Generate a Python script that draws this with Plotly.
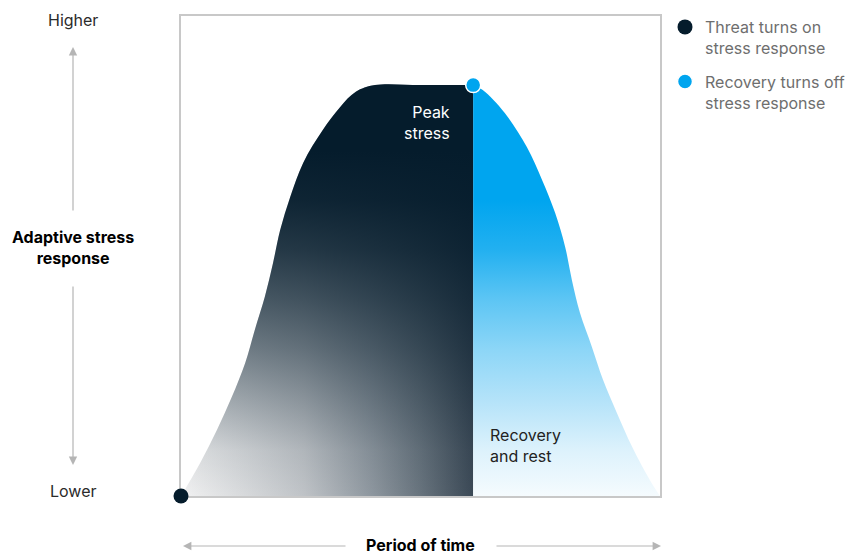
import plotly.graph_objects as go

# ---- data (time 0-100, response 0-100) ----
time_rise = [0, 4.0, 7.5, 10.6, 13.4, 15.4, 17.5, 19.2, 20.7, 22.8, 25.5, 29.6, 33.2, 36.5, 40.5, 50.0, 61.0]
resp_rise = [0, 6.9, 13.75, 20.6, 27.7, 34.6, 41.5, 48.5, 55.4, 62.3, 69.4, 76.25, 81.0, 84.2, 85.6, 85.6, 85.6]
time_fall = [61.0, 63.0, 67.6, 72.2, 75.4, 78.1, 80.2, 81.6, 83.3, 85.8, 88.1, 91.0, 94.2, 97.9, 100]
resp_fall = [85.6, 84.6, 79.8, 72.7, 65.8, 59.0, 51.9, 45.0, 38.1, 31.0, 24.2, 17.3, 10.2, 3.3, 0]

start_point = (0, 0)
peak_point = (61.0, 85.6)
legend_names = ["Threat turns on<br>stress response", "Recovery turns off<br>stress response"]

DARK = "#051c2c"
BLUE = "#00a5ef"
FONT = "Inter, Arial, sans-serif"

fig = go.Figure()

line_style = dict(width=0, shape="spline", smoothing=1.0)

# stress phase: horizontal light->dark base layer
fig.add_trace(go.Scatter(
    x=time_rise, y=resp_rise, mode="lines", fill="tozeroy",
    line=line_style, hoverinfo="skip", showlegend=False,
    fillgradient=dict(type="horizontal", start=0, stop=61,
                      colorscale=[[0, "#f2f2f3"], [0.075, "#e8e9ea"], [0.42, "#bfc3c7"],
                                  [0.65, "#8e979f"], [0.82, "#67737d"], [1, "#3b4956"]]),
))
# stress phase: vertical dark overlay (gives the diagonal look)
fig.add_trace(go.Scatter(
    x=time_rise, y=resp_rise, mode="lines", fill="tozeroy",
    line=line_style, hoverinfo="skip", showlegend=False,
    fillgradient=dict(type="vertical", start=0, stop=85.6,
                      colorscale=[[0, "rgba(5,28,44,0)"], [0.11, "rgba(5,28,44,0.08)"],
                                  [0.23, "rgba(5,28,44,0.28)"], [0.36, "rgba(5,28,44,0.5)"],
                                  [0.48, "rgba(5,28,44,0.68)"], [0.6, "rgba(5,28,44,0.84)"],
                                  [0.72, "rgba(5,28,44,0.95)"], [0.84, "rgba(5,28,44,1)"],
                                  [1, "rgba(5,28,44,1)"]]),
))
# recovery phase
fig.add_trace(go.Scatter(
    x=time_fall, y=resp_fall, mode="lines", fill="tozeroy",
    line=line_style, hoverinfo="skip", showlegend=False,
    fillgradient=dict(type="vertical", start=0, stop=85.6,
                      colorscale=[[0, "#f5fbfe"], [0.11, "#ddf2fc"], [0.23, "#b5e3f9"],
                                  [0.355, "#8dd6f7"], [0.48, "#5cc5f4"], [0.6, "#22b0f0"],
                                  [0.72, BLUE], [1, BLUE]]),
))

# key points
fig.add_trace(go.Scatter(
    x=[start_point[0]], y=[start_point[1]], mode="markers", name=legend_names[0],
    legendgroup="a", cliponaxis=False,
    marker=dict(size=15, color=DARK, line=dict(width=0)),
))
fig.add_trace(go.Scatter(
    x=[peak_point[0]], y=[peak_point[1]], mode="markers", name=legend_names[1],
    legendgroup="b", cliponaxis=False,
    marker=dict(size=15, color=BLUE, line=dict(width=1.5, color="white")),
))

W, H = 845, 556
L, R, T, B = 181, 185, 16, 60
PW, PH = W - L - R, H - T - B


def px(xp):
    return (xp - L) / PW


def py(yp):
    return (H - B - yp) / PH


ARROW = "#b5b5b5"
ann = []


def label(x, y, text, color, xanchor="center", align="center"):
    ann.append(dict(x=px(x), y=py(y), xref="paper", yref="paper", text=text,
                    xanchor=xanchor, yanchor="middle", align=align, showarrow=False,
                    font=dict(size=16, color=color, family=FONT)))


label(73, 20, "Higher", "#2b2b2b")
label(73, 491, "Lower", "#2b2b2b")
label(73, 248, "<b>Adaptive stress</b><br><b>response</b>", "#000000")
label(420, 545, "<b>Period of time</b>", "#000000")
label(452, 122, "Peak<br>stress", "#ffffff", xanchor="right", align="right")
label(488, 445, "Recovery<br>and rest", "#222222", xanchor="left", align="left")

# arrows
for (tx, ty, ax, ay) in [(73, 47, 0, 165), (73, 465, 0, -180), (183, 546, 164, 0), (661, 546, -166, 0)]:
    ann.append(dict(x=px(tx), y=py(ty), xref="paper", yref="paper", text="",
                    showarrow=True, ax=ax, ay=ay, axref="pixel", ayref="pixel",
                    arrowhead=2, arrowsize=1.4, arrowwidth=1.2, arrowcolor=ARROW, standoff=0))

fig.update_layout(
    width=W, height=H, margin=dict(l=L, r=R, t=T, b=B, autoexpand=False),
    paper_bgcolor="white", plot_bgcolor="white",
    font=dict(family=FONT, size=16),
    xaxis=dict(range=[0, 100], showgrid=False, zeroline=False, showticklabels=False, ticks="",
               showline=True, mirror=True, linecolor="#c8c8c8", linewidth=1.5, fixedrange=True,
               layer="below traces"),
    yaxis=dict(range=[0, 100], showgrid=False, zeroline=False, showticklabels=False, ticks="",
               showline=True, mirror=True, linecolor="#c8c8c8", linewidth=1.5, fixedrange=True,
               layer="below traces"),
    showlegend=True,
    legend=dict(x=px(665), y=py(10), xanchor="left", yanchor="top", valign="top",
                font=dict(size=16, color="#6e6e6e", family=FONT),
                tracegroupgap=10, itemsizing="trace", bgcolor="rgba(0,0,0,0)"),
    annotations=ann,
)

fig.write_html("out.html")
